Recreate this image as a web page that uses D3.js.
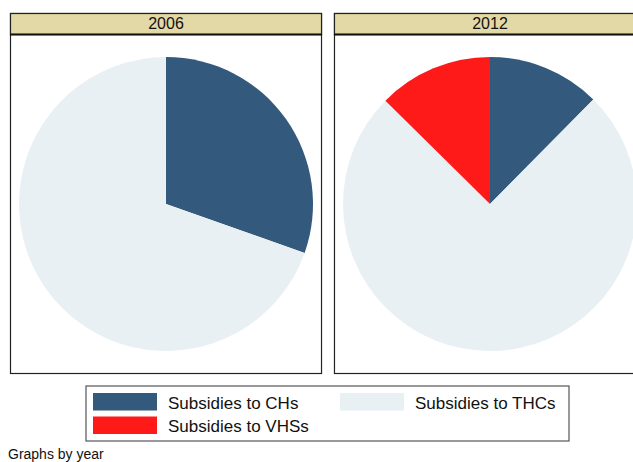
<!DOCTYPE html>
<html><head><meta charset="utf-8">
<script src="https://cdn.jsdelivr.net/npm/d3@7"></script>
<style>body{margin:0;background:#fff;}svg{display:block;}</style>
</head><body>
<svg id="c" width="633" height="462"></svg>
<script>
const years = ["2006", "2012"];
const categories = ["Subsidies to CHs", "Subsidies to THCs", "Subsidies to VHSs"];
const shares2006 = [0.304, 0.696, 0];
const shares2012 = [0.124, 0.750, 0.126];
const colors = ["#33597c", "#e9f0f3", "#ff1a1a"];

(function () {
const svg = d3.select("#c");
const font = "Arial, 'Liberation Sans', sans-serif";
const data = [shares2006, shares2012];
const panelX = d3.scaleBand().domain(years).range([10, 645]).paddingInner(0.04);
const color = d3.scaleOrdinal().domain(categories).range(colors);
const pie = d3.pie().sort(null).value(d => d.v);
const panelTop = 13, headH = 21, panelBottom = 373;
const r = 147;
const arc = d3.arc().innerRadius(0).outerRadius(r);

years.forEach((y, i) => {
  const x0 = panelX(y), w = panelX.bandwidth();
  const g = svg.append("g");
  g.append("rect").attr("x", x0 + 0.5).attr("y", panelTop + 0.5).attr("width", w).attr("height", panelBottom - panelTop)
    .attr("fill", "#fff").attr("stroke", "#222").attr("stroke-width", 1.2);
  g.append("rect").attr("x", x0 + 0.5).attr("y", panelTop + 0.5).attr("width", w).attr("height", headH)
    .attr("fill", "#e3d9a6").attr("stroke", "#222").attr("stroke-width", 1.2);
  g.append("line").attr("x1", x0).attr("x2", x0 + w + 1).attr("y1", panelTop + headH + 0.5).attr("y2", panelTop + headH + 0.5)
    .attr("stroke", "#111").attr("stroke-width", 2);
  g.append("text").attr("x", x0 + w / 2 + 0.5).attr("y", panelTop + 15.5).attr("text-anchor", "middle")
    .attr("font-family", font).attr("font-size", 16).attr("fill", "#111").text(y);
  const cx = x0 + w / 2 + 0.5, cy = 204;
  const items = categories.map((c, k) => ({c, v: data[i][k]}));
  g.append("g").attr("transform", `translate(${cx},${cy})`)
    .selectAll("path").data(pie(items)).join("path")
    .attr("d", arc).attr("fill", d => color(d.data.c));
});

const lg = svg.append("g");
lg.append("rect").attr("x", 86).attr("y", 386).attr("width", 483).attr("height", 55)
  .attr("fill", "#fff").attr("stroke", "#555").attr("stroke-width", 1.2);
const legPos = [[93, 393], [340, 393], [93, 416.5]];
categories.forEach((c, k) => {
  const [lx, ly] = legPos[k];
  lg.append("rect").attr("x", lx).attr("y", ly).attr("width", 64).attr("height", 17.5).attr("fill", color(c));
  lg.append("text").attr("x", lx + 75).attr("y", ly + 15.5).attr("font-family", font).attr("font-size", 17)
    .attr("fill", "#111").text(c);
});
svg.append("text").attr("x", 8).attr("y", 458.5).attr("font-family", font).attr("font-size", 14)
  .attr("fill", "#111").text("Graphs by year");
})();
</script>
</body></html>
